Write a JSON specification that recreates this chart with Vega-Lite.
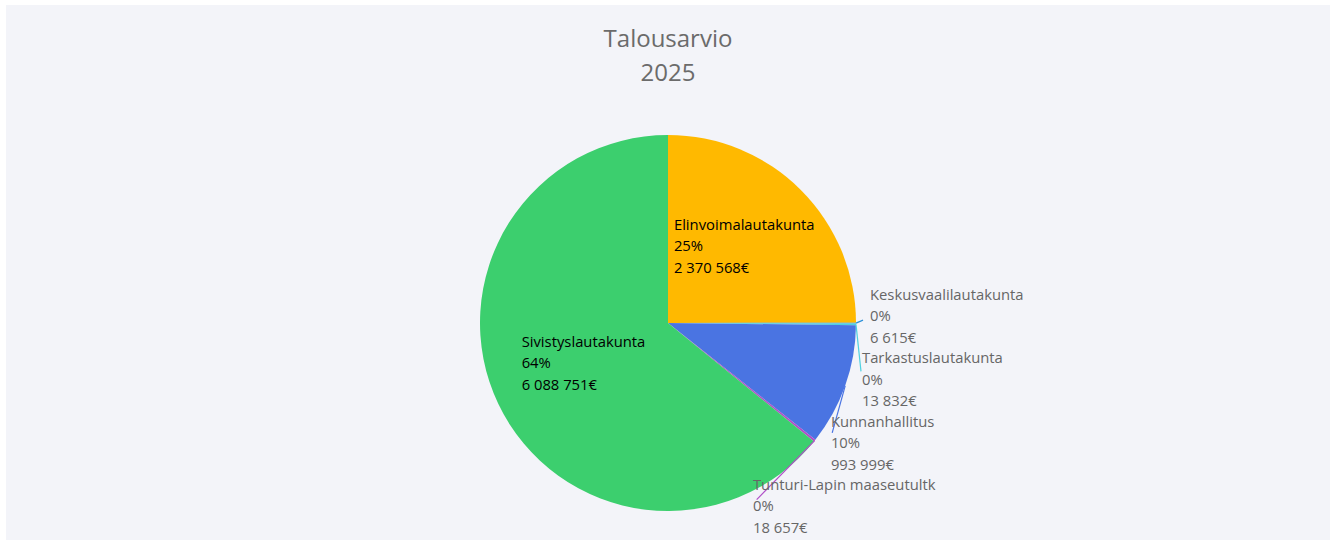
{
  "$schema": "https://vega.github.io/schema/vega-lite/v6.json",
  "width": 1324,
  "height": 535,
  "autosize": {"type": "none"},
  "padding": {"left": 6, "top": 5, "right": 7, "bottom": 0},
  "background": "#ffffff",
  "config": {
    "view": {"fill": "#f3f4f9", "stroke": null},
    "locale": {"number": {"decimal": ",", "thousands": " ", "grouping": [3], "currency": ["", "€"]}}
  },
  "title": {
    "text": ["Talousarvio", "2025"],
    "anchor": "middle",
    "frame": "group",
    "font": "Open Sans",
    "fontSize": 24,
    "fontWeight": "normal",
    "color": "#6b6b6b",
    "lineHeight": 34,
    "baseline": "top",
    "offset": -81
  },
  "data": {
    "values": [
      {"order": 1, "name": "Elinvoimalautakunta", "value": 2370568},
      {"order": 2, "name": "Keskusvaalilautakunta", "value": 6615},
      {"order": 3, "name": "Tarkastuslautakunta", "value": 13832},
      {"order": 4, "name": "Kunnanhallitus", "value": 993999},
      {"order": 5, "name": "Tunturi-Lapin maaseutultk", "value": 18657},
      {"order": 6, "name": "Sivistyslautakunta", "value": 6088751}
    ]
  },
  "transform": [
    {"joinaggregate": [{"op": "sum", "field": "value", "as": "total"}]},
    {"window": [{"op": "sum", "field": "value", "as": "cum"}], "sort": [{"field": "order"}], "frame": [null, 0]},
    {"calculate": "(datum.cum - datum.value / 2) / datum.total", "as": "mid"},
    {"calculate": "sin(2 * PI * datum.mid)", "as": "ux"},
    {"calculate": "-cos(2 * PI * datum.mid)", "as": "uy"},
    {"calculate": "datum.ux / 2", "as": "hx"},
    {"calculate": "datum.uy / 2", "as": "hy"},
    {"calculate": "[datum.name, round(datum.value / datum.total * 100) + '%', format(datum.value, ',') + '€']", "as": "label"}
  ],
  "layer": [
    {
      "mark": {"type": "arc", "outerRadius": 188, "y": 318},
      "encoding": {
        "theta": {"field": "value", "type": "quantitative", "stack": true},
        "order": {"field": "order", "type": "quantitative"},
        "color": {
          "field": "name",
          "type": "nominal",
          "scale": {
            "domain": ["Elinvoimalautakunta", "Keskusvaalilautakunta", "Tarkastuslautakunta", "Kunnanhallitus", "Tunturi-Lapin maaseutultk", "Sivistyslautakunta"],
            "range": ["#FFB900", "#2A8FD8", "#4FD1E0", "#4A74E2", "#B04FC8", "#3CCF6E"]
          },
          "legend": null
        }
      }
    },
    {
      "transform": [{"filter": "datum.order == 1"}],
      "mark": {"type": "text", "align": "left", "baseline": "middle", "dx": -60.5, "dy": -30.5, "font": "Open Sans", "fontSize": 14.8, "lineHeight": 21.5, "color": "#000000"},
      "encoding": {
        "x": {"field": "hx", "type": "quantitative", "scale": {"domain": [-1, 1], "range": [474, 850], "nice": false, "zero": false}, "axis": null},
        "y": {"field": "hy", "type": "quantitative", "scale": {"domain": [-1, 1], "range": [130, 506], "nice": false, "zero": false}, "axis": null},
        "text": {"field": "label", "type": "nominal"}
      }
    },
    {
      "transform": [{"filter": "datum.order == 6"}],
      "mark": {"type": "text", "align": "left", "baseline": "middle", "dx": -61.5, "dy": -20.5, "font": "Open Sans", "fontSize": 14.8, "lineHeight": 21.5, "color": "#000000"},
      "encoding": {
        "x": {"field": "hx", "type": "quantitative", "scale": {"domain": [-1, 1], "range": [474, 850], "nice": false, "zero": false}, "axis": null},
        "y": {"field": "hy", "type": "quantitative", "scale": {"domain": [-1, 1], "range": [130, 506], "nice": false, "zero": false}, "axis": null},
        "text": {"field": "label", "type": "nominal"}
      }
    },
    {
      "transform": [{"filter": "datum.order == 2"}],
      "mark": {"type": "rule", "color": "#2A8FD8", "strokeWidth": 1.2, "x2Offset": 7, "y2Offset": -3},
      "encoding": {
        "x": {"field": "ux", "type": "quantitative", "scale": {"domain": [-1, 1], "range": [474, 850], "nice": false, "zero": false}, "axis": null},
        "y": {"field": "uy", "type": "quantitative", "scale": {"domain": [-1, 1], "range": [130, 506], "nice": false, "zero": false}, "axis": null},
        "x2": {"field": "ux"},
        "y2": {"field": "uy"}
      }
    },
    {
      "transform": [{"filter": "datum.order == 3"}],
      "mark": {"type": "rule", "color": "#4FD1E0", "strokeWidth": 1.2, "x2Offset": 5, "y2Offset": 47},
      "encoding": {
        "x": {"field": "ux", "type": "quantitative", "scale": {"domain": [-1, 1], "range": [474, 850], "nice": false, "zero": false}, "axis": null},
        "y": {"field": "uy", "type": "quantitative", "scale": {"domain": [-1, 1], "range": [130, 506], "nice": false, "zero": false}, "axis": null},
        "x2": {"field": "ux"},
        "y2": {"field": "uy"}
      }
    },
    {
      "transform": [{"filter": "datum.order == 4"}],
      "mark": {"type": "rule", "color": "#4A74E2", "strokeWidth": 1.2, "x2Offset": -13, "y2Offset": 47},
      "encoding": {
        "x": {"field": "ux", "type": "quantitative", "scale": {"domain": [-1, 1], "range": [474, 850], "nice": false, "zero": false}, "axis": null},
        "y": {"field": "uy", "type": "quantitative", "scale": {"domain": [-1, 1], "range": [130, 506], "nice": false, "zero": false}, "axis": null},
        "x2": {"field": "ux"},
        "y2": {"field": "uy"}
      }
    },
    {
      "transform": [{"filter": "datum.order == 5"}],
      "mark": {"type": "rule", "color": "#B04FC8", "strokeWidth": 1.2, "x2Offset": -58, "y2Offset": 59},
      "encoding": {
        "x": {"field": "ux", "type": "quantitative", "scale": {"domain": [-1, 1], "range": [474, 850], "nice": false, "zero": false}, "axis": null},
        "y": {"field": "uy", "type": "quantitative", "scale": {"domain": [-1, 1], "range": [130, 506], "nice": false, "zero": false}, "axis": null},
        "x2": {"field": "ux"},
        "y2": {"field": "uy"}
      }
    },
    {
      "transform": [{"filter": "datum.order == 2"}],
      "mark": {"type": "text", "align": "left", "baseline": "middle", "dx": 14, "dy": -27.5, "font": "Open Sans", "fontSize": 14.8, "lineHeight": 21.5, "color": "#666666"},
      "encoding": {
        "x": {"field": "ux", "type": "quantitative", "scale": {"domain": [-1, 1], "range": [474, 850], "nice": false, "zero": false}, "axis": null},
        "y": {"field": "uy", "type": "quantitative", "scale": {"domain": [-1, 1], "range": [130, 506], "nice": false, "zero": false}, "axis": null},
        "text": {"field": "label", "type": "nominal"}
      }
    },
    {
      "transform": [{"filter": "datum.order == 3"}],
      "mark": {"type": "text", "align": "left", "baseline": "middle", "dx": 6, "dy": 35.1, "font": "Open Sans", "fontSize": 14.8, "lineHeight": 21.5, "color": "#666666"},
      "encoding": {
        "x": {"field": "ux", "type": "quantitative", "scale": {"domain": [-1, 1], "range": [474, 850], "nice": false, "zero": false}, "axis": null},
        "y": {"field": "uy", "type": "quantitative", "scale": {"domain": [-1, 1], "range": [130, 506], "nice": false, "zero": false}, "axis": null},
        "text": {"field": "label", "type": "nominal"}
      }
    },
    {
      "transform": [{"filter": "datum.order == 4"}],
      "mark": {"type": "text", "align": "left", "baseline": "middle", "dx": -14.3, "dy": 36.9, "font": "Open Sans", "fontSize": 14.8, "lineHeight": 21.5, "color": "#666666"},
      "encoding": {
        "x": {"field": "ux", "type": "quantitative", "scale": {"domain": [-1, 1], "range": [474, 850], "nice": false, "zero": false}, "axis": null},
        "y": {"field": "uy", "type": "quantitative", "scale": {"domain": [-1, 1], "range": [130, 506], "nice": false, "zero": false}, "axis": null},
        "text": {"field": "label", "type": "nominal"}
      }
    },
    {
      "transform": [{"filter": "datum.order == 5"}],
      "mark": {"type": "text", "align": "left", "baseline": "middle", "dx": -61.7, "dy": 44.9, "font": "Open Sans", "fontSize": 14.8, "lineHeight": 21.5, "color": "#666666"},
      "encoding": {
        "x": {"field": "ux", "type": "quantitative", "scale": {"domain": [-1, 1], "range": [474, 850], "nice": false, "zero": false}, "axis": null},
        "y": {"field": "uy", "type": "quantitative", "scale": {"domain": [-1, 1], "range": [130, 506], "nice": false, "zero": false}, "axis": null},
        "text": {"field": "label", "type": "nominal"}
      }
    }
  ]
}
